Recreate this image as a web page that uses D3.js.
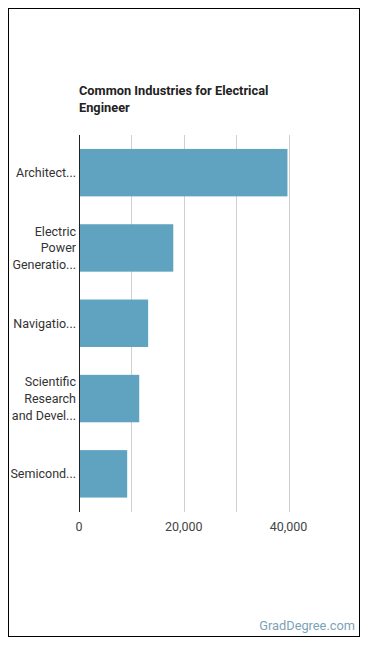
<!DOCTYPE html>
<html>
<head>
    <script src="https://cdn.jsdelivr.net/npm/d3@7/dist/d3.min.js"></script>
    <style>
        body { margin: 0; background: #fff; }
        text { font-family: Roboto, "Noto Sans", sans-serif; }
    </style>
</head>
<body>
    <svg width="370" height="648" id="mainsvg"></svg>
    <script>
        // data
        const industries = [
            'Architectural, Engineering, and Related Services',
            'Electric Power Generation, Transmission and Distribution',
            'Navigational, Measuring, Electromedical, and Control Instruments',
            'Scientific Research and Development Services',
            'Semiconductor and Other Electronic Components'
        ];
        const shownLabels = [
            ['Architect...'],
            ['Electric', 'Power', 'Generatio...'],
            ['Navigatio...'],
            ['Scientific', 'Research', 'and Devel...'],
            ['Semicond...']
        ];
        const workers = [39800, 18000, 13200, 11500, 9200];
        const xTicks = [0, 20000, 40000];
        const gridTicks = [0, 10000, 20000, 30000, 40000];

        const svg = d3.select('#mainsvg');
        const margin = { top: 135, left: 79, right: 82, bottom: 137 };

        // outer frame
        svg.append('rect')
            .attr('x', 8.5).attr('y', 8.5)
            .attr('width', 351).attr('height', 628)
            .attr('fill', '#fff').attr('stroke', '#000').attr('stroke-width', 1);

        // title
        const title = svg.append('text')
            .attr('x', 79).attr('y', 95)
            .attr('font-size', 12.8).attr('font-weight', 'bold').attr('fill', '#222');
        title.append('tspan').attr('x', 79).text('Common Industries for Electrical');
        title.append('tspan').attr('x', 79).attr('dy', 17).text('Engineer');

        const xScale = d3.scaleLinear()
            .domain([0, 40000])
            .range([margin.left, 288.5]);

        const yScale = d3.scaleBand()
            .domain(industries)
            .range([margin.top, 511.5])
            .paddingInner(0.37)
            .paddingOuter(0.185);

        // grid
        svg.append('g').selectAll('line').data(gridTicks.slice(1)).join('line')
            .attr('x1', d => Math.round(xScale(d)) + 0.5)
            .attr('x2', d => Math.round(xScale(d)) + 0.5)
            .attr('y1', margin.top).attr('y2', 512)
            .attr('stroke', '#d0d0d0').attr('stroke-width', 1);

        // bars
        svg.append('g').selectAll('rect').data(workers).join('rect')
            .attr('x', xScale(0))
            .attr('y', (d, i) => yScale(industries[i]))
            .attr('width', d => xScale(d) - xScale(0))
            .attr('height', yScale.bandwidth())
            .attr('fill', '#5fa3c0');

        // y axis line
        svg.append('line')
            .attr('x1', 79.5).attr('x2', 79.5)
            .attr('y1', margin.top).attr('y2', 512)
            .attr('stroke', '#222').attr('stroke-width', 1);

        // y labels
        const ylab = svg.append('g').selectAll('text').data(industries).join('text')
            .attr('text-anchor', 'end')
            .attr('font-size', 12.5)
            .attr('fill', '#333');
        ylab.each(function (d, i) {
            const lines = shownLabels[i];
            const cy = yScale(d) + yScale.bandwidth() / 2;
            const lh = 16.7;
            const y0 = cy - (lines.length - 1) * lh / 2 + 4.5;
            lines.forEach((l, j) => {
                d3.select(this).append('tspan')
                    .attr('x', 76).attr('y', y0 + j * lh).text(l);
            });
        });

        // x tick labels
        svg.append('g').selectAll('text').data(xTicks).join('text')
            .attr('x', d => xScale(d))
            .attr('y', 531)
            .attr('text-anchor', 'middle')
            .attr('font-size', 12.5)
            .attr('fill', '#444')
            .text(d => d3.format(',')(d));

        // source
        svg.append('text')
            .attr('x', 355).attr('y', 630)
            .attr('text-anchor', 'end')
            .attr('font-size', 12.8)
            .attr('fill', '#7ba3b8')
            .text('GradDegree.com');
    </script>
</body>
</html>
